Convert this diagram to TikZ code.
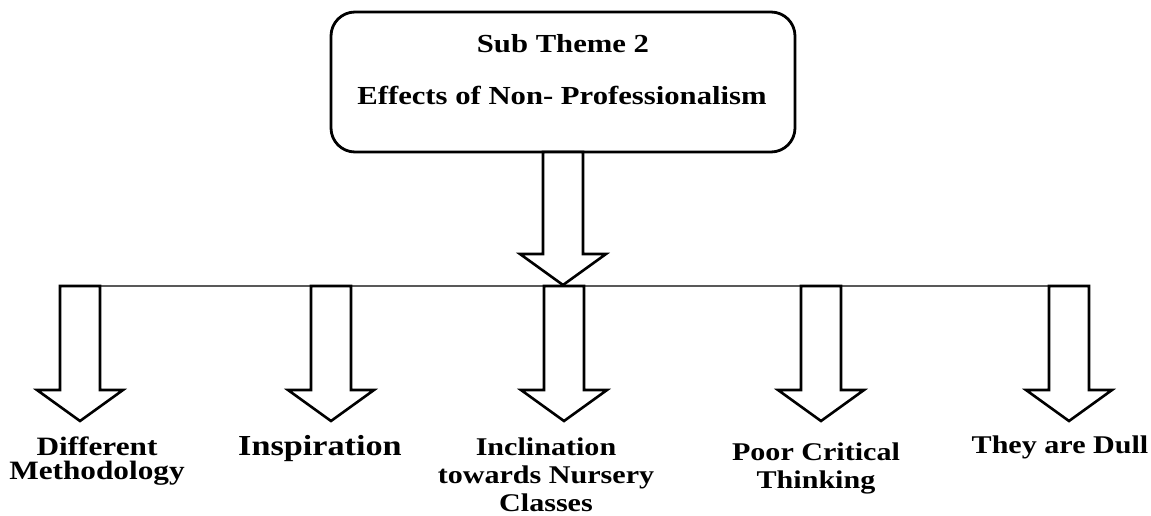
\documentclass[tikz,border=0pt]{standalone}
\usepackage{fontspec}
\setmainfont{Liberation Serif}[FakeStretch=1.18]
\usetikzlibrary{positioning}

\newcommand{\blkarrow}[2]{% #1 = start, #2 = tip
  \draw[blk] ([shift={(-20,0)}]#1) -- ([shift={(-20,-31)}]#2) -- ([shift={(-43,-31)}]#2) -- (#2)
    -- ([shift={(43,-31)}]#2) -- ([shift={(20,-31)}]#2) -- ([shift={(20,0)}]#1) -- cycle;}

\begin{document}
\begin{tikzpicture}[x=1pt,y=-1pt,thick,
  tema/.style={draw,line width=2.8pt,rounded corners=24pt,outer sep=0pt,minimum width=464pt,minimum height=140pt},
  blk/.style={draw,line width=2.6pt,fill=white,line join=miter},
  barra/.style={draw,line width=1.4pt,color=black!65},
  lbl/.style={font=\bfseries\fontsize{25.5}{28}\selectfont,align=center,inner sep=0pt}]

\useasboundingbox (0,0) rectangle (1151,516);

% Tema principale
\node [tema] (tema) at (563,82) {};
\node [lbl, anchor=base, font=\bfseries\fontsize{26}{28}\selectfont] (sub) at (563,53) {Sub Theme 2};
\node [lbl, anchor=base, font=\bfseries\fontsize{26}{28}\selectfont] (eff) at (562,105) {Effects of Non- Professionalism};

% Freccia centrale
\coordinate (tip0) at (563,285);
\blkarrow{tema.south}{tip0}

% Frecce inferiori
\foreach \x [count=\i] in {80,331,564,821,1069} {
  \coordinate (s\i) at (\x,286);
  \coordinate (e\i) at (\x,421);
}
\draw [barra] ([shift={(20,0)}]s1) -- ([shift={(20,0)}]s5);
\foreach \i in {1,...,5} {\blkarrow{s\i}{e\i}}

% Etichette
\node [lbl, anchor=north, font=\bfseries\fontsize{26.5}{24}\selectfont] (dm) at (97,436) {Different\\Methodology};
\node [lbl, anchor=north, font=\bfseries\fontsize{29}{30}\selectfont] (insp) at (320,435) {Inspiration};
\node [lbl, anchor=north] (incl) at (546,437.5) {Inclination\\towards Nursery\\Classes};
\node [lbl, anchor=north] (pct) at (816,442.5) {Poor Critical\\Thinking};
\node [lbl, anchor=north] (dull) at (1060,435.5) {They are Dull};

\end{tikzpicture}
\end{document}
